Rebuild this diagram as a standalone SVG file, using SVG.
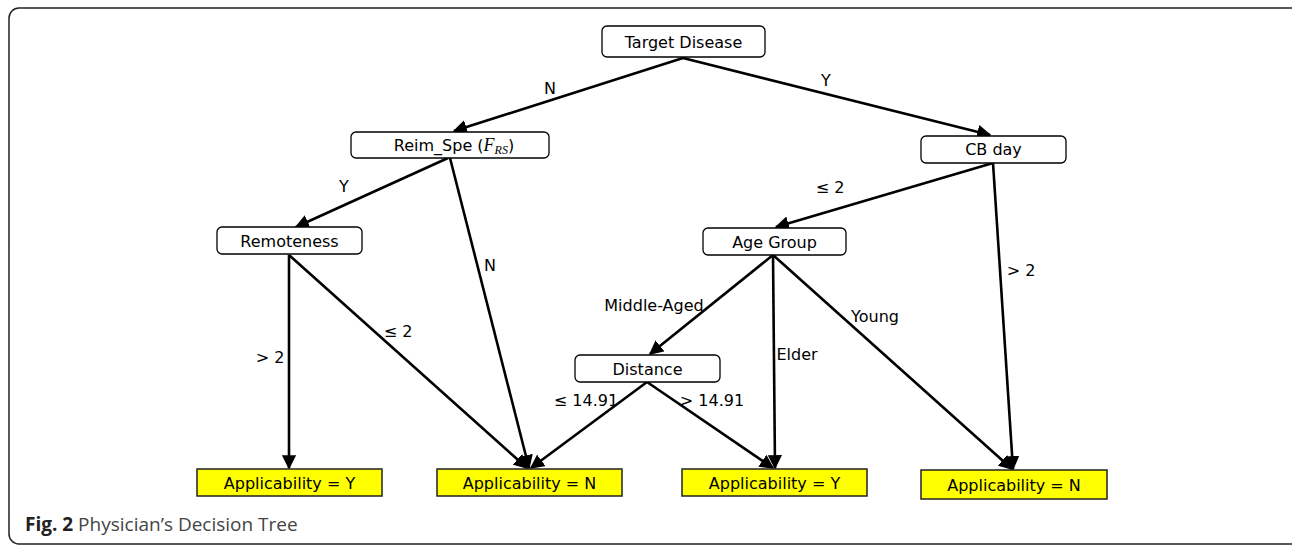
<svg xmlns="http://www.w3.org/2000/svg" width="1292" height="546" viewBox="0 0 1292 546">
<style>
.frame{fill:#fff;stroke:#222;stroke-width:1.5}
.node rect{fill:#fff;stroke:#000;stroke-width:1.3}
.leaf rect{fill:#ffff00;stroke:#222;stroke-width:1.5}
text{font-family:"DejaVu Sans",sans-serif;font-size:16px;fill:#000}
.lbl{font-size:16px}
.edge{stroke:#000;stroke-width:2.6;fill:none;marker-end:url(#arr)}
.cap{font-family:"Open Sans","Noto Sans",sans-serif;font-size:19px;fill:#444}
.capb{font-weight:bold;fill:#222}
.it{font-family:"Liberation Serif",serif;font-style:italic}
</style>
<defs>
<marker id="arr" viewBox="0 0 10 10" refX="9" refY="5" markerWidth="5.5" markerHeight="5.5" orient="auto" markerUnits="strokeWidth">
<path d="M0,0 L10,5 L0,10 z" fill="#000"/>
</marker>
</defs>
<rect class="frame" x="9" y="8" width="1292" height="536" rx="10"/>
<g id="connectors">
<line class="edge" x1="683" y1="58" x2="454" y2="131"/>
<line class="edge" x1="683" y1="58" x2="990" y2="135"/>
<line class="edge" x1="448" y1="158" x2="296" y2="227"/>
<line class="edge" x1="450" y1="158" x2="529" y2="468"/>
<line class="edge" x1="993" y1="163" x2="776" y2="227"/>
<line class="edge" x1="993" y1="163" x2="1013" y2="469"/>
<line class="edge" x1="289" y1="255" x2="289" y2="468"/>
<line class="edge" x1="289" y1="255" x2="527" y2="468"/>
<line class="edge" x1="773" y1="255" x2="650" y2="354"/>
<line class="edge" x1="773" y1="255" x2="775" y2="468"/>
<line class="edge" x1="773" y1="255" x2="1012" y2="469"/>
<line class="edge" x1="647" y1="382" x2="531" y2="468"/>
<line class="edge" x1="647" y1="382" x2="773" y2="468"/>
</g>
<g id="edge-labels">
<text class="lbl" x="550" y="94" text-anchor="middle">N</text>
<text class="lbl" x="826" y="86" text-anchor="middle">Y</text>
<text class="lbl" x="344" y="192" text-anchor="middle">Y</text>
<text class="lbl" x="490" y="271" text-anchor="middle">N</text>
<text class="lbl" x="830" y="193" text-anchor="middle">≤ 2</text>
<text class="lbl" x="1021" y="276" text-anchor="middle">&gt; 2</text>
<text class="lbl" x="270" y="363" text-anchor="middle">&gt; 2</text>
<text class="lbl" x="398" y="337" text-anchor="middle">≤ 2</text>
<text class="lbl" x="654" y="311" text-anchor="middle">Middle-Aged</text>
<text class="lbl" x="797" y="360" text-anchor="middle">Elder</text>
<text class="lbl" x="875" y="322" text-anchor="middle">Young</text>
<text class="lbl" x="586" y="406" text-anchor="middle">≤ 14.91</text>
<text class="lbl" x="712" y="406" text-anchor="middle">&gt; 14.91</text>
</g>
<g id="target-disease" class="node"><rect x="602" y="26" width="163" height="31" rx="5"/><text x="683.5" y="48" text-anchor="middle">Target Disease</text></g>
<g id="reim-spe" class="node"><rect x="351" y="132" width="198" height="26" rx="5"/><text x="454" y="151" text-anchor="middle">Reim_Spe (<tspan class="it" font-size="18">F</tspan><tspan class="it" font-size="12" dy="3">RS</tspan><tspan dy="-3">)</tspan></text></g>
<g id="cb-day" class="node"><rect x="921" y="136" width="145" height="27" rx="5"/><text x="993.5" y="155" text-anchor="middle">CB day</text></g>
<g id="remoteness" class="node"><rect x="217" y="227" width="145" height="27" rx="5"/><text x="289.5" y="247" text-anchor="middle">Remoteness</text></g>
<g id="age-group" class="node"><rect x="703" y="228" width="143" height="27" rx="5"/><text x="774.5" y="248" text-anchor="middle">Age Group</text></g>
<g id="distance" class="node"><rect x="575" y="355" width="145" height="27" rx="5"/><text x="647.5" y="375" text-anchor="middle">Distance</text></g>
<g id="leaf-y1" class="leaf"><rect x="197" y="469" width="185" height="27"/><text x="289.5" y="489" text-anchor="middle">Applicability = Y</text></g>
<g id="leaf-n1" class="leaf"><rect x="437" y="469" width="185" height="27"/><text x="529.5" y="489" text-anchor="middle">Applicability = N</text></g>
<g id="leaf-y2" class="leaf"><rect x="682" y="469" width="185" height="27"/><text x="774.5" y="489" text-anchor="middle">Applicability = Y</text></g>
<g id="leaf-n2" class="leaf"><rect x="921" y="470" width="186" height="29"/><text x="1014" y="491" text-anchor="middle">Applicability = N</text></g>
<text class="cap" x="25" y="531"><tspan class="capb">Fig. 2</tspan> Physician’s Decision Tree</text>
</svg>
